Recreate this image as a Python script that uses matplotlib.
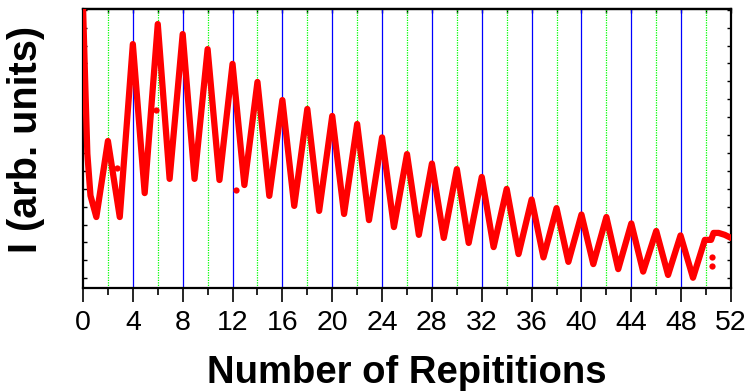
import matplotlib
matplotlib.use("Agg")
import matplotlib.pyplot as plt
import numpy as np

plt.rcParams['font.family'] = ['Liberation Sans', 'DejaVu Sans']

# Intensity trace (arb. units), read at extrema of each cycle
rep = [0.0, 0.2, 0.35, 0.6, 1.07, 2.0, 2.95, 4.0, 4.95, 6.0, 6.95, 8.0, 8.95,
       10.0, 10.95, 12.0, 12.95, 14.0, 14.95, 16.0, 16.95, 18.0, 18.95,
       20.0, 20.95, 22.0, 22.95, 24.0, 24.95, 26.0, 26.95, 28.0, 28.95,
       30.0, 30.95, 32.0, 32.95, 34.0, 34.95, 36.0, 36.95, 38.0, 38.95,
       40.0, 40.95, 42.0, 42.95, 44.0, 44.95, 46.0, 46.95, 47.95, 48.95,
       49.9, 50.4, 50.6, 51.0, 51.5, 52.0]
intensity = [101, 70, 48, 33, 25.3, 52.6, 25.3, 87.4, 33.9, 94.6, 39.0, 91.0, 39.0,
             85.6, 38.6, 80.3, 36.8, 73.8, 32.9, 67.3, 29.3, 64.1, 27.5,
             61.6, 26.4, 58.7, 24.2, 53.9, 21.7, 47.9, 18.9, 44.5, 17.8,
             42.5, 16.0, 39.7, 14.5, 35.4, 12.0, 31.6, 10.8, 28.5, 9.2,
             26.2, 8.4, 25.3, 6.6, 23.0, 5.7, 20.3, 4.5, 18.7, 3.5,
             17.1, 17.1, 19.6, 19.6, 18.9, 17.8]

# stray points
stray_rep = [2.73, 5.88, 12.3, 50.5, 50.5]
stray_int = [42.9, 63.7, 35.0, 10.8, 7.8]

xticks = list(range(0, 53, 4))

fig = plt.figure(figsize=(7.55, 3.92), dpi=100)
ax = fig.add_axes([83/755, 1-287.5/392, (731-83)/755, (287.5-9)/392])

ax.plot(rep, intensity, color='#ff0000', lw=4.5, solid_joinstyle='round',
        solid_capstyle='round', zorder=3)
ax.plot(stray_rep, stray_int, 'o', color='#ff0000', ms=4.5, mec='none', zorder=3)

ax.set_xlim(0, 52)
ax.set_ylim(0, 100)

# vertical grid lines
for v in range(4, 52, 4):
    ax.axvline(v, color='#0000ff', lw=0.9, zorder=1)
for v in range(2, 52, 4):
    ax.axvline(v, color='#00ff00', lw=0.9, ls=(0, (1, 1)), zorder=1)

ax.set_xticks(xticks)
ax.set_xticklabels([str(t) for t in xticks], fontsize=20.5)
ax.set_xticks(list(range(2, 52, 4)), minor=True)
ax.tick_params(axis='x', which='major', direction='out', length=10, width=1.2,
               pad=6, colors='black')
ax.tick_params(axis='x', which='minor', direction='out', length=5, width=1.2)

yt = [3.3 + 6.43 * n for n in range(16)]
ax.set_yticks(yt)
ax.set_yticklabels([])
ax.tick_params(axis='y', which='major', direction='in', length=3, width=1,
               left=True, right=True)

top = ax.secondary_xaxis('top')
top.set_xticks(list(range(0, 53, 2)))
top.set_xticklabels([])
top.tick_params(direction='in', length=3, width=1)

for s in ax.spines.values():
    s.set_linewidth(1.6)
    s.set_color('black')
top.spines['top'].set_linewidth(1.6)

ax.set_xlabel('Number of Repititions', fontsize=27.5, fontweight='bold', labelpad=14)
ax.set_ylabel('I (arb. units)', fontsize=28.5, fontweight='bold')
ax.yaxis.set_label_coords(-0.058, 0.53)

fig.savefig('out.png', dpi=100)
